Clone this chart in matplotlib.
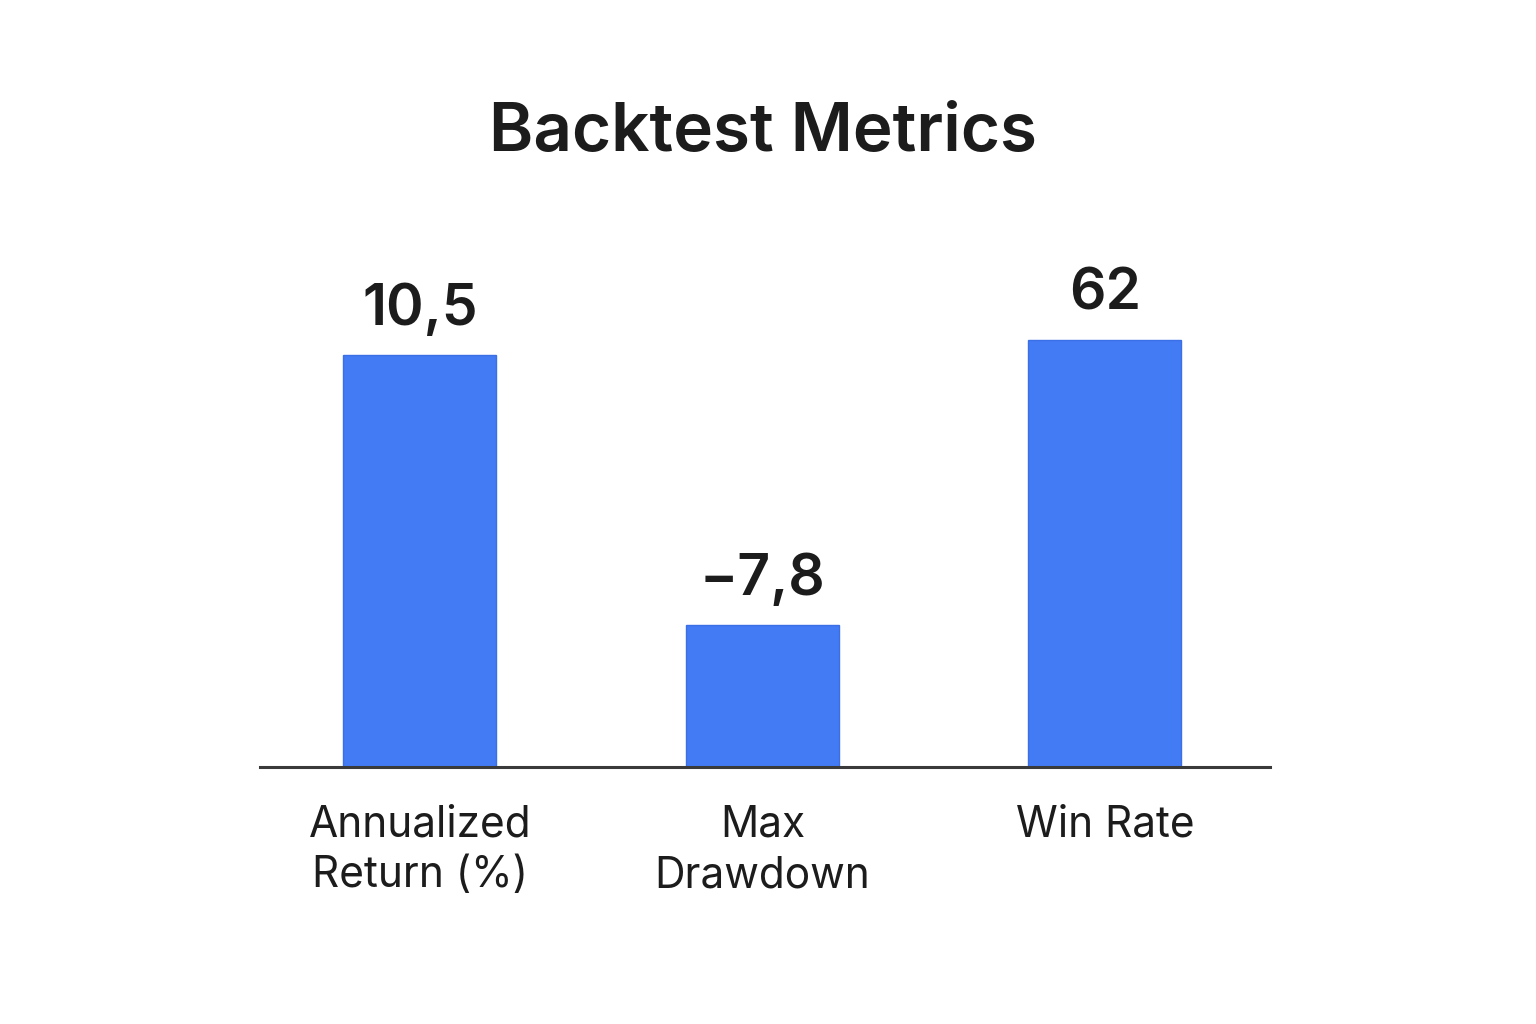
import matplotlib
matplotlib.use("Agg")
import matplotlib.pyplot as plt

# Data
categories = ["Annualized\nReturn (%)", "Max\nDrawdown", "Win Rate"]
value_labels = ["10,5", "\u22127,8", "62"]
# displayed bar heights (arbitrary units)
bar_heights = [10.5, 3.62, 10.88]

plt.rcParams['font.family'] = ['Inter', 'DejaVu Sans']

fig = plt.figure(figsize=(15.36, 10.24), dpi=100)
ax = fig.add_axes([260/1536, 257/1024, 1010/1536, 471/1024])

x = list(range(len(categories)))
bars = ax.bar(x, bar_heights, width=0.447, color="#437BF5",
              edgecolor="#3A6FE6", linewidth=1.0, zorder=2)

ax.set_xlim(-0.467, 2.482)
ax.set_ylim(0, 12)

for b, lab in zip(bars, value_labels):
    ax.annotate(lab, (b.get_x() + b.get_width()/2, b.get_height()),
                xytext=(0, 13), textcoords="offset points",
                ha="center", va="bottom", fontsize=41, fontweight="semibold",
                color="#1c1c1c")

for s in ["top", "right", "left"]:
    ax.spines[s].set_visible(False)
ax.spines["bottom"].set_color("#3a3a3a")
ax.spines["bottom"].set_linewidth(2.2)
ax.set_yticks([])
ax.set_xticks(x)
ax.set_xticklabels(categories, fontsize=30.5, color="#1c1c1c", linespacing=1.3)
ax.tick_params(axis="x", length=0, pad=27)

fig.text(763/1536, 1 - 133/1024, "Backtest Metrics", ha="center", va="center",
         fontsize=48.5, fontweight="semibold", color="#1c1c1c")

fig.savefig("out.png", dpi=100, facecolor="white")
